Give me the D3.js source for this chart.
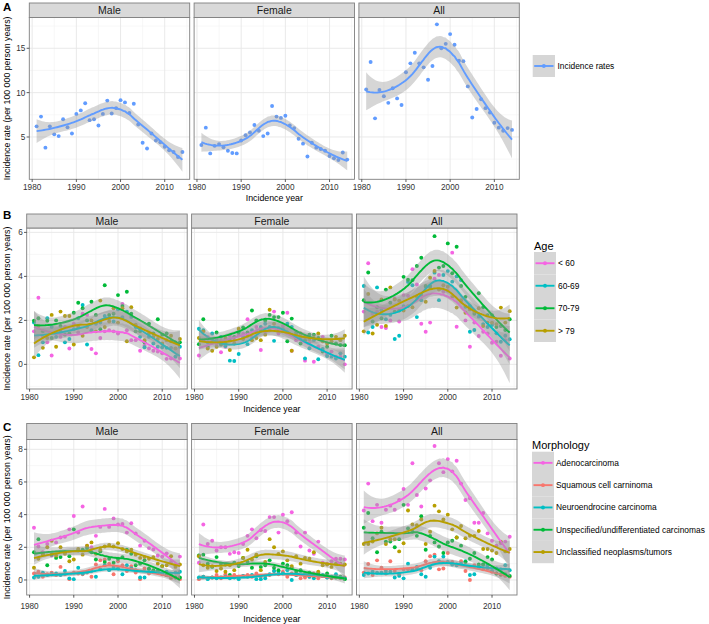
<!DOCTYPE html>
<html><head><meta charset="utf-8">
<script src="https://cdn.jsdelivr.net/npm/d3@7"></script>
<style>body{margin:0;background:#fff;} svg{display:block;font-family:"Liberation Sans",Arial,Helvetica,sans-serif;}</style>
</head><body><svg id="c" width="709" height="624"></svg>
<script>
// ---------------- DATA ----------------
const years=[1981,1982,1983,1984,1985,1986,1987,1988,1989,1990,1991,1992,1993,1994,1995,1996,1997,1998,1999,2000,2001,2002,2003,2004,2005,2006,2007,2008,2009,2010,2011,2012,2013,2014];
const facets=["Male","Female","All"];
const xTicks=[1980,1990,2000,2010];

// A: incidence rates
const aMale=[6.2,7.3,3.8,6.2,5.3,5.1,7.0,6.1,5.4,7.6,8.0,8.8,6.9,7.0,6.3,7.6,9.1,7.65,8.25,9.15,8.9,7.7,8.75,6.4,4.35,3.7,5.4,4.6,4.4,3.9,3.5,3.3,2.75,3.3];
const aFemale=[4.1,6.05,3.15,4.0,4.2,3.85,3.45,3.2,3.15,4.6,5.2,5.5,6.35,5.7,5.1,5.4,8.5,7.3,7.15,7.4,6.3,6.0,4.8,4.25,2.8,4.35,3.8,3.65,3.45,2.85,2.6,2.4,3.25,2.45];
const aAll=[10.35,13.45,7.1,10.3,9.6,8.85,10.5,9.35,8.6,12.3,13.3,14.5,13.3,12.85,11.45,13.0,17.7,15.0,15.5,16.6,15.4,13.6,13.55,10.7,7.2,8.15,9.25,8.25,7.75,6.6,6.05,5.7,6.0,5.8];
const aSeries=["Incidence rates"];
const aTicks=[5,10,15];

// B: age groups
const ageGroups=["< 60","60-69","70-79","> 79"];
const bMale_lt60=[1.5,3.03,1.25,1.0,0.4,1.4,1.25,1.7,0.72,1.85,1.45,2.3,2.25,0.7,0.5,1.2,1.5,1.55,1.5,1.4,2.75,1.55,1.1,1.1,0.62,0.85,0.72,0.62,0.58,0.5,0.25,0.27,0.35,0.27];
const bMale_6069=[1.9,0.42,1.0,2.1,1.7,1.25,1.5,1.0,1.15,1.6,2.1,2.7,0.9,1.55,1.85,1.9,2.2,2.1,1.95,2.5,2.15,2.4,2.15,1.7,1.25,0.78,1.25,0.95,0.8,0.78,0.75,0.75,0.35,0.8];
const bMale_7079=[1.98,2.1,1.5,1.98,1.2,2.0,1.75,1.35,1.4,2.35,2.8,2.55,2.0,2.85,2.25,1.6,3.6,2.25,2.3,3.15,2.65,3.3,2.3,1.5,1.5,1.0,1.85,1.4,2.05,1.35,1.4,1.05,1.0,1.0];
const bMale_gt79=[0.32,1.75,0.75,1.2,2.25,0.8,2.4,2.2,2.2,0.9,1.7,1.3,1.7,2.0,1.5,2.9,1.7,1.95,2.55,1.9,2.55,1.05,2.6,1.8,1.65,1.1,1.4,1.25,1.15,0.95,1.1,1.3,0.72,1.15];
const bFemale_lt60=[0.4,1.1,1.25,1.05,0.95,0.55,0.8,1.3,1.1,1.35,1.4,2.05,1.25,1.7,0.65,1.5,1.55,2.4,1.4,1.75,2.35,0.62,1.1,1.15,0.17,0.95,0.12,0.8,1.25,0.47,0.58,0.35,0.35,0.0];
const bFemale_6069=[1.62,1.55,1.0,1.4,1.1,1.25,0.83,0.17,0.15,0.47,1.25,0.92,1.55,1.5,1.7,1.85,1.7,1.07,1.65,1.6,1.85,1.7,1.35,1.25,0.27,0.73,1.1,0.23,0.7,0.38,0.35,0.27,0.5,0.35];
const bFemale_7079=[0.92,2.05,0.8,1.0,1.45,0.9,0.95,1.1,1.25,1.45,1.68,1.45,2.45,2.0,1.55,2.0,2.25,2.15,2.15,2.35,1.05,2.08,1.45,0.95,1.1,1.35,1.35,1.2,0.58,0.8,1.3,0.95,0.88,0.87];
const bFemale_gt79=[1.2,1.5,0.72,0.62,0.8,1.05,1.2,0.65,0.95,1.62,1.15,1.3,1.1,1.2,1.1,1.35,2.48,1.85,1.55,1.5,1.45,0.62,1.2,1.4,1.25,1.15,1.2,1.4,1.05,0.95,1.05,1.25,1.1,1.3];
const bAll_lt60=[2.4,4.6,2.3,2.4,1.7,1.65,2.0,3.0,1.95,3.15,3.12,4.33,3.63,1.85,1.48,1.9,3.9,4.06,3.3,3.35,5.08,1.71,2.85,2.0,0.8,1.9,1.29,1.48,1.41,0.98,1.03,0.39,1.1,0.27];
const bAll_6069=[3.56,1.45,1.7,3.5,2.45,2.05,2.25,1.15,1.3,2.65,3.75,3.6,2.15,2.92,3.53,3.5,4.17,2.92,4.06,4.24,3.76,4.0,3.83,2.62,1.48,1.56,2.17,1.83,1.7,1.79,1.41,1.03,1.3,1.14];
const bAll_7079=[2.92,4.18,1.95,2.6,2.1,3.4,2.8,2.4,2.45,3.98,3.85,3.83,4.47,4.85,3.56,3.56,5.83,4.4,4.47,5.5,4.14,5.35,3.56,3.07,2.65,2.3,3.23,2.6,2.24,2.24,1.7,1.74,1.56,2.05];
const bAll_gt79=[1.5,3.2,1.4,1.8,2.95,1.75,3.5,2.95,2.9,2.45,2.65,2.6,3.07,3.15,2.85,3.94,4.25,3.4,3.6,3.53,3.07,2.58,2.92,2.35,2.5,2.4,2.55,1.74,1.9,1.9,1.83,2.58,1.9,2.42];
const bTicks=[0,2,4,6];

// C: morphology
const morphologies=["Adenocarcinoma","Squamous cell carninoma","Neuroendrocine carcinoma","Unspecified/undifferentiated carcinomas","Unclassified neoplasms/tumors"];
const cMale_adeno=[3.2,2.05,1.7,2.2,1.5,2.3,2.6,2.65,3.1,3.92,2.9,4.5,2.1,2.0,2.7,3.25,4.35,3.25,3.77,3.4,3.43,2.9,3.47,2.85,2.1,2.4,1.95,1.87,1.5,1.43,1.63,1.1,0.9,1.43];
const cMale_squam=[0.4,0.5,0.2,0.35,0.45,0.3,0.8,0.35,0.05,0.45,0.4,0.35,0.45,0.2,0.95,1.2,1.25,1.0,0.35,1.15,0.9,0.55,0.85,0.45,0.05,0.7,0.4,0.55,0.45,0.35,0.3,0.1,0.15,0.05];
const cMale_neuro=[0.15,0.2,0.45,0.3,0.35,0.4,0.3,0.55,0.1,0.05,0.75,0.4,0.5,0.55,0.2,0.65,0.9,0.6,0.8,0.7,0.35,0.9,0.7,0.6,0.15,0.15,0.65,0.5,0.6,0.4,0.5,0.3,0.45,0.5];
const cMale_unspec=[1.7,2.5,1.55,0.9,1.55,1.35,1.4,1.7,1.45,3.1,1.8,1.85,1.95,1.7,1.25,1.75,1.1,1.3,1.05,1.3,1.4,1.85,1.6,0.9,1.0,1.2,0.7,0.6,0.5,0.85,0.3,0.2,0.15,0.15];
const cMale_uncl=[0.75,1.3,1.6,2.0,2.4,1.5,2.0,1.6,1.15,1.25,1.9,1.55,2.1,2.3,1.6,1.85,2.05,2.15,2.05,2.25,1.9,1.75,1.85,1.55,1.35,1.4,1.3,1.4,1.0,0.85,0.9,1.45,0.8,0.95];
const cFemale_adeno=[1.05,3.4,2.2,2.4,1.8,2.0,2.0,1.6,1.7,1.65,2.2,2.7,3.1,2.55,3.05,3.0,3.85,3.85,2.9,4.0,3.6,4.15,2.9,2.05,2.9,1.8,1.6,2.35,1.05,1.0,1.15,1.3,1.3,1.25];
const cFemale_squam=[0.05,0.2,0.1,0.15,0.3,0.1,0.35,0.2,0.3,0.2,0.25,0.3,0.2,0.4,0.2,0.25,0.3,0.55,0.35,0.5,0.2,0.4,0.3,0.1,0.15,0.2,0.4,0.1,0.25,0.15,0.1,0.2,0.1,0.15];
const cFemale_neuro=[0.15,0.2,0.05,0.15,0.1,0.15,0.2,0.1,0.15,0.05,0.25,0.2,0.3,0.05,0.05,0.1,0.35,0.55,0.5,0.4,0.6,0.0,0.3,0.55,0.35,0.2,0.1,0.45,0.3,0.15,0.2,0.35,0.15,0.1];
const cFemale_unspec=[1.5,1.55,1.0,0.8,1.4,1.0,0.95,0.3,1.05,0.85,1.35,1.1,0.75,1.45,0.8,0.9,1.2,0.75,0.6,1.0,0.9,0.75,0.5,0.6,0.3,0.45,0.25,0.35,0.25,0.4,0.15,0.15,0.2,0.05];
const cFemale_uncl=[1.45,0.9,0.75,0.85,0.55,0.7,0.5,0.9,0.6,1.0,1.35,1.85,1.25,1.55,0.6,1.1,2.5,2.0,1.6,1.75,1.2,0.85,1.45,1.0,1.35,1.3,1.7,0.5,0.9,0.95,0.8,1.0,1.0,0.95];
const cAll_adeno=[4.25,5.9,3.6,4.6,3.5,4.3,4.55,4.3,4.9,5.57,4.6,7.15,5.2,4.5,5.6,6.1,8.2,7.15,6.6,7.4,6.65,7.3,5.9,4.9,5.0,3.5,3.5,4.1,2.85,2.4,2.1,2.25,2.35,2.65];
const cAll_squam=[0.45,0.98,0.3,1.2,0.75,0.4,1.15,0.55,0.35,0.65,0.65,0.65,0.65,0.6,1.15,1.45,1.55,0.65,0.7,1.65,1.1,0.95,1.15,0.55,0.0,0.9,0.8,0.65,0.7,0.5,0.4,0.3,0.25,0.2];
const cAll_neuro=[0.3,0.4,0.5,0.45,0.45,0.55,0.5,0.15,0.25,0.1,1.0,0.6,0.8,0.35,0.2,0.75,1.43,1.15,1.43,1.1,0.95,0.9,1.0,1.15,0.3,0.35,0.75,0.95,0.9,0.55,0.7,0.65,0.9,0.6];
const cAll_unspec=[3.2,4.1,2.55,1.7,2.95,2.35,2.35,2.0,2.5,4.6,3.15,2.95,2.7,3.9,1.85,2.7,2.3,2.05,1.65,2.3,2.4,2.6,2.1,1.1,1.3,1.65,0.95,0.95,1.4,1.25,0.4,0.35,0.35,0.25];
const cAll_uncl=[2.2,2.2,2.35,2.85,3.2,2.2,2.5,2.5,1.75,2.25,4.25,3.4,3.35,3.7,2.2,2.95,4.55,4.2,3.7,4.0,3.1,2.6,3.3,2.55,2.7,2.7,3.0,1.9,1.9,1.8,1.65,2.35,1.75,1.9];
const cTicks=[0,2,4,6,8];

// ---------------- LAYOUT / STYLE ----------------
const COL={blue:"#619CFF",pink:"#F564E3",cyan:"#00BFC4",green:"#00BA38",olive:"#B79F00",salmon:"#F8766D"};
const rows=[
 {letter:"A",letterY:10.5,stripTop:3,plotTop:17.5,plotBottom:179.3,left:29.3,pw:160.4,gap:4.4,
  yDomain:[0.23,18.47],yTicks:aTicks,xLabelY:186.7,xTitleY:198,
  series:[{name:aSeries[0],color:COL.blue,vals:[aMale,aFemale,aAll]}],
  legend:{title:null,x:532.7,keyTop:55,keyW:22.3,keyH:22,textX:557.5}},
 {letter:"B",letterY:218.5,stripTop:214,plotTop:228,plotBottom:389,left:26.7,pw:160.5,gap:4.4,
  yDomain:[-1.12,6.2],yTicks:bTicks,xLabelY:397.3,xTitleY:408.5,
  series:[
   {name:ageGroups[0],color:COL.pink,vals:[bMale_lt60,bFemale_lt60,bAll_lt60]},
   {name:ageGroups[1],color:COL.cyan,vals:[bMale_6069,bFemale_6069,bAll_6069]},
   {name:ageGroups[2],color:COL.green,vals:[bMale_7079,bFemale_7079,bAll_7079]},
   {name:ageGroups[3],color:COL.olive,vals:[bMale_gt79,bFemale_gt79,bAll_gt79]}],
  legend:{title:"Age",titleY:249.5,x:534,keyTop:252,keyW:22,keyH:22.5,textX:558}},
 {letter:"C",letterY:431,stripTop:423.5,plotTop:439.5,plotBottom:595,left:26.7,pw:160.5,gap:4.4,
  yDomain:[-0.92,8.6],yTicks:cTicks,xLabelY:605.7,xTitleY:619.3,
  series:[
   {name:morphologies[0],color:COL.pink,vals:[cMale_adeno,cFemale_adeno,cAll_adeno]},
   {name:morphologies[1],color:COL.salmon,vals:[cMale_squam,cFemale_squam,cAll_squam]},
   {name:morphologies[2],color:COL.cyan,vals:[cMale_neuro,cFemale_neuro,cAll_neuro]},
   {name:morphologies[3],color:COL.green,vals:[cMale_unspec,cFemale_unspec,cAll_unspec]},
   {name:morphologies[4],color:COL.olive,vals:[cMale_uncl,cFemale_uncl,cAll_uncl]}],
  legend:{title:"Morphology",titleY:449,x:532,keyTop:451.7,keyW:22,keyH:22.3,textX:556}}
];
const RIBBON="rgba(153,153,153,0.4)";
const LINE_W=1.9, PT_R=1.95, LEG_FS=8.4;

// ---------------- LOESS (span .75, degree 2) ----------------
function inv3row0(m){
  const [a,b,c]=m[0],[d,e,f]=m[1],[g,h,i]=m[2];
  const A=e*i-f*h,B=-(d*i-f*g),C=d*h-e*g;
  const det=a*A+b*B+c*C;
  return [A/det,-(b*i-c*h)/det,(b*f-c*e)/det];
}
function qt975(df){
  const z=1.959964;
  const g1=(z**3+z)/4, g2=(5*z**5+16*z**3+3*z)/96, g3=(3*z**7+19*z**5+17*z**3-15*z)/384;
  return z+g1/df+g2/df**2+g3/df**3;
}
function loess(xs,ys,span=0.75,m=80){
  const n=xs.length,q=Math.floor(n*span);
  function lv(x0){
    const d=xs.map(x=>Math.abs(x-x0));
    const h=[...d].sort((a,b)=>a-b)[q-1]*1.000001;
    const w=d.map(v=>{const u=v/h;return u<1?Math.pow(1-u*u*u,3):0;});
    const S=[[0,0,0],[0,0,0],[0,0,0]];
    xs.forEach((x,i)=>{const t=(x-x0)/10,v=[1,t,t*t];for(let a=0;a<3;a++)for(let b=0;b<3;b++)S[a][b]+=w[i]*v[a]*v[b];});
    const r=inv3row0(S);
    return xs.map((x,i)=>{const t=(x-x0)/10;return w[i]*(r[0]+r[1]*t+r[2]*t*t);});
  }
  const L=xs.map(lv);
  const fitted=L.map(l=>d3.sum(l,(v,i)=>v*ys[i]));
  const rss=d3.sum(ys,(y,i)=>(y-fitted[i])**2);
  const IL=L.map((row,i)=>row.map((v,j)=>(i===j?1:0)-v));
  const M=[];for(let j=0;j<n;j++){M.push([]);for(let k=0;k<n;k++){let s=0;for(let i=0;i<n;i++)s+=IL[i][j]*IL[i][k];M[j].push(s);}}
  let d1=0,d2=0;for(let j=0;j<n;j++){d1+=M[j][j];for(let k=0;k<n;k++)d2+=M[j][k]*M[j][k];}
  const sigma=Math.sqrt(rss/d1),tq=qt975(d1*d1/d2);
  const x0=d3.min(xs),x1=d3.max(xs);
  return d3.range(m).map(k=>{
    const x=x0+k*(x1-x0)/(m-1),l=lv(x);
    const y=d3.sum(l,(v,i)=>v*ys[i]),se=sigma*Math.sqrt(d3.sum(l,v=>v*v));
    return {x,y,lo:y-tq*se,hi:y+tq*se};
  });
}

// ---------------- DRAW ----------------
const svg=d3.select("#c");
const xDomain=[1979.35,2015.65];
let clipId=0;
rows.forEach(row=>{
  const y=d3.scaleLinear().domain(row.yDomain).range([row.plotBottom,row.plotTop]);
  const yt=row.yTicks, step=yt[1]-yt[0];
  const yMinor=d3.range(yt[0]-step/2,row.yDomain[1],step).filter(v=>v>row.yDomain[0]&&v<row.yDomain[1]);
  const xMinor=[1985,1995,2005,2015];
  svg.append("text").attr("x",3).attr("y",row.letterY).attr("font-size",11.5).attr("font-weight","bold").attr("fill","#000").text(row.letter);
  facets.forEach((fac,fi)=>{
    const x0=row.left+fi*(row.pw+row.gap),x1=x0+row.pw;
    const x=d3.scaleLinear().domain(xDomain).range([x0,x1]);
    const g=svg.append("g");
    g.append("rect").attr("x",x0).attr("y",row.plotTop).attr("width",row.pw).attr("height",row.plotBottom-row.plotTop).attr("fill","#fff");
    const grid=g.append("g");
    xMinor.forEach(v=>{if(v<xDomain[1])grid.append("line").attr("x1",x(v)).attr("x2",x(v)).attr("y1",row.plotTop).attr("y2",row.plotBottom).attr("stroke","#F2F2F2").attr("stroke-width",0.6);});
    yMinor.forEach(v=>grid.append("line").attr("x1",x0).attr("x2",x1).attr("y1",y(v)).attr("y2",y(v)).attr("stroke","#F2F2F2").attr("stroke-width",0.6));
    xTicks.forEach(v=>grid.append("line").attr("x1",x(v)).attr("x2",x(v)).attr("y1",row.plotTop).attr("y2",row.plotBottom).attr("stroke","#E6E6E6").attr("stroke-width",0.9));
    yt.forEach(v=>grid.append("line").attr("x1",x0).attr("x2",x1).attr("y1",y(v)).attr("y2",y(v)).attr("stroke","#E6E6E6").attr("stroke-width",0.9));
    const cid="clip"+(clipId++);
    svg.append("clipPath").attr("id",cid).append("rect").attr("x",x0).attr("y",row.plotTop).attr("width",row.pw).attr("height",row.plotBottom-row.plotTop);
    const pg=g.append("g").attr("clip-path",`url(#${cid})`);
    row.series.forEach(s=>{
      pg.append("g").selectAll("circle").data(s.vals[fi]).join("circle")
        .attr("cx",(d,i)=>x(years[i])).attr("cy",d=>y(d)).attr("r",PT_R).attr("fill",s.color);
    });
    row.series.forEach(s=>{
      const fit=loess(years,s.vals[fi]);
      pg.append("path").datum(fit).attr("fill",RIBBON)
        .attr("d",d3.area().x(d=>x(d.x)).y0(d=>y(d.lo)).y1(d=>y(d.hi)));
      pg.append("path").datum(fit).attr("fill","none").attr("stroke",s.color).attr("stroke-width",LINE_W)
        .attr("d",d3.line().x(d=>x(d.x)).y(d=>y(d.y)));
    });
    g.append("rect").attr("x",x0).attr("y",row.plotTop).attr("width",row.pw).attr("height",row.plotBottom-row.plotTop)
      .attr("fill","none").attr("stroke","#7F7F7F").attr("stroke-width",0.9);
    g.append("rect").attr("x",x0).attr("y",row.stripTop).attr("width",row.pw).attr("height",row.plotTop-row.stripTop)
      .attr("fill","#D9D9D9").attr("stroke","#7F7F7F").attr("stroke-width",0.9);
    g.append("text").attr("x",(x0+x1)/2).attr("y",(row.stripTop+row.plotTop)/2).attr("dy","0.36em")
      .attr("text-anchor","middle").attr("font-size",10.5).attr("fill","#1A1A1A").text(fac);
    const xa=g.append("g");
    xTicks.forEach(v=>{
      xa.append("line").attr("x1",x(v)).attr("x2",x(v)).attr("y1",row.plotBottom).attr("y2",row.plotBottom+2.7).attr("stroke","#333").attr("stroke-width",0.8);
      xa.append("text").attr("x",x(v)).attr("y",row.xLabelY).attr("dy","0.35em").attr("text-anchor","middle").attr("font-size",8.2).attr("fill","#333").text(v);
    });
    if(fi===0){
      yt.forEach(v=>{
        xa.append("line").attr("x1",x0-2.7).attr("x2",x0).attr("y1",y(v)).attr("y2",y(v)).attr("stroke","#333").attr("stroke-width",0.8);
        xa.append("text").attr("x",x0-4).attr("y",y(v)).attr("dy","0.35em").attr("text-anchor","end").attr("font-size",8.2).attr("fill","#333").text(v);
      });
    }
  });
  const allL=row.left, allR=row.left+3*row.pw+2*row.gap;
  svg.append("text").attr("x",(allL+allR)/2).attr("y",row.xTitleY).attr("dy","0.35em").attr("text-anchor","middle").attr("font-size",8.8).attr("fill","#000").text("Incidence year");
  const cy=(row.plotTop+row.plotBottom)/2;
  svg.append("text").attr("transform",`translate(7,${cy}) rotate(-90)`).attr("dy","0.35em").attr("text-anchor","middle").attr("font-size",8.8).attr("fill","#000").text("Incidence rate (per 100 000 person years)");
  const lg=row.legend, lgG=svg.append("g");
  if(lg.title) lgG.append("text").attr("x",lg.x).attr("y",lg.titleY).attr("font-size",11).attr("fill","#000").text(lg.title);
  row.series.forEach((s,i)=>{
    const ky=lg.keyTop+i*lg.keyH;
    lgG.append("rect").attr("x",lg.x).attr("y",ky).attr("width",lg.keyW).attr("height",lg.keyH).attr("fill","#D6D6D6");
    lgG.append("line").attr("x1",lg.x+1.5).attr("x2",lg.x+lg.keyW-1.5).attr("y1",ky+lg.keyH/2).attr("y2",ky+lg.keyH/2).attr("stroke",s.color).attr("stroke-width",LINE_W);
    lgG.append("circle").attr("cx",lg.x+lg.keyW/2).attr("cy",ky+lg.keyH/2).attr("r",PT_R).attr("fill",s.color);
    lgG.append("text").attr("x",lg.textX).attr("y",ky+lg.keyH/2).attr("dy","0.35em").attr("font-size",LEG_FS).attr("fill","#000").text(s.name);
  });
});
</script></body></html>
